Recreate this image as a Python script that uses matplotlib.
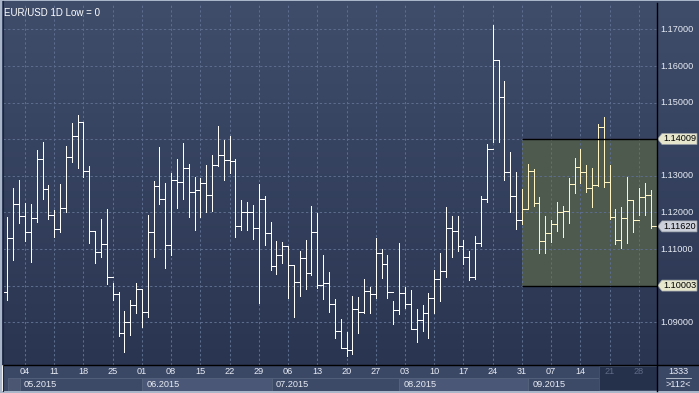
import numpy as np
import matplotlib.pyplot as plt
from matplotlib.patches import Rectangle, Polygon
from matplotlib.colors import to_rgb

plt.rcParams['font.family'] = ['Liberation Sans', 'DejaVu Sans']

W, H = 699, 393

# EUR/USD daily bars, 28.04.2015 .. 30.09.2015 (one per trading day)
highs = [1.0994, 1.1189, 1.1266, 1.1289, 1.1225, 1.1223, 1.1371, 1.1392, 1.1275, 1.1207,
         1.1277, 1.1382, 1.1444, 1.1466, 1.1446, 1.1327, 1.1149, 1.1181, 1.1210, 1.1008,
         1.0982, 1.0931, 1.0961, 1.1008, 1.0990, 1.1193, 1.1286, 1.1380, 1.1281, 1.1309,
         1.1345, 1.1389, 1.1333, 1.1297, 1.1293, 1.1330, 1.1357, 1.1436, 1.1398, 1.1409,
         1.1346, 1.1234, 1.1230, 1.1221, 1.1278, 1.1245, 1.1174, 1.1123, 1.1119, 1.1109,
         1.1057, 1.1095, 1.1125, 1.1218, 1.1198, 1.1084, 1.1037, 1.0963, 1.0910, 1.0874,
         1.0972, 1.0970, 1.1018, 1.0997, 1.1131, 1.1099, 1.1084, 1.0959, 1.1116, 1.0996,
         1.0988, 1.0936, 1.0947, 1.0979, 1.1043, 1.1090, 1.1214, 1.1190, 1.1190, 1.1124,
         1.1095, 1.1136, 1.1245, 1.1387, 1.1712, 1.1617, 1.1559, 1.1365, 1.1312, 1.1264,
         1.1333, 1.1319, 1.1242, 1.1190, 1.1180, 1.1228, 1.1218, 1.1293, 1.1348, 1.1374,
         1.1330, 1.1321, 1.1442, 1.1460, 1.1330, 1.1210, 1.1216, 1.1296, 1.1234, 1.1268,
         1.1280, 1.1262]
lows = [1.0972, 1.0961, 1.1070, 1.1172, 1.1123, 1.1066, 1.1175, 1.1236, 1.1181, 1.1132,
        1.1148, 1.1200, 1.1339, 1.1321, 1.1298, 1.1118, 1.1061, 1.1079, 1.1004, 1.0960,
        1.0863, 1.0820, 1.0865, 1.0926, 1.0888, 1.0915, 1.1079, 1.1223, 1.1049, 1.1084,
        1.1213, 1.1236, 1.1189, 1.1151, 1.1189, 1.1202, 1.1205, 1.1327, 1.1289, 1.1309,
        1.1134, 1.1152, 1.1152, 1.1128, 1.0954, 1.1111, 1.1043, 1.1032, 1.1063, 1.0966,
        1.0915, 1.0973, 1.0990, 1.1029, 1.0995, 1.0964, 1.0929, 1.0856, 1.0830, 1.0809,
        1.0813, 1.0870, 1.0926, 1.0926, 1.0967, 1.1022, 1.0967, 1.0895, 1.0922, 1.0940,
        1.0881, 1.0847, 1.0876, 1.0856, 1.0926, 1.0959, 1.1025, 1.1079, 1.1096, 1.1059,
        1.1016, 1.1018, 1.1109, 1.1229, 1.1393, 1.1393, 1.1289, 1.1202, 1.1154, 1.1169,
        1.1209, 1.1218, 1.1089, 1.1089, 1.1120, 1.1150, 1.1132, 1.1171, 1.1254, 1.1280,
        1.1257, 1.1214, 1.1273, 1.1269, 1.1181, 1.1114, 1.1104, 1.1116, 1.1146, 1.1193,
        1.1193, 1.1157]
closes = [1.0982, 1.1130, 1.1222, 1.1190, 1.1146, 1.1184, 1.1345, 1.1263, 1.1193, 1.1154,
          1.1212, 1.1351, 1.1409, 1.1446, 1.1313, 1.1149, 1.1091, 1.1113, 1.1023, 1.0977,
          1.0870, 1.0902, 1.0947, 1.0990, 1.0927, 1.1148, 1.1272, 1.1236, 1.1111, 1.1289,
          1.1284, 1.1321, 1.1255, 1.1262, 1.1280, 1.1248, 1.1330, 1.1357, 1.1343, 1.1341,
          1.1164, 1.1200, 1.1200, 1.1157, 1.1237, 1.1143, 1.1054, 1.1084, 1.1109, 1.1057,
          1.1011, 1.1075, 1.1034, 1.1146, 1.1002, 1.1007, 1.0949, 1.0876, 1.0830, 1.0824,
          1.0936, 1.0927, 1.0986, 1.0977, 1.1089, 1.1059, 1.0982, 1.0934, 1.0979, 1.0949,
          1.0881, 1.0906, 1.0925, 1.0966, 1.1018, 1.1041, 1.1157, 1.1150, 1.1109, 1.1078,
          1.1025, 1.1116, 1.1236, 1.1374, 1.1617, 1.1515, 1.1310, 1.1245, 1.1180, 1.1209,
          1.1313, 1.1225, 1.1122, 1.1143, 1.1169, 1.1201, 1.1205, 1.1278, 1.1325, 1.1310,
          1.1266, 1.1275, 1.1434, 1.1283, 1.1189, 1.1125, 1.1184, 1.1234, 1.1180, 1.1243,
          1.1248, 1.1162]

# mondays (bar index) and their day numbers
day_ticks = [4, 9, 14, 19, 24, 29, 34, 39, 44, 49, 54, 59, 64, 69, 74, 79, 84, 89, 94, 99, 104, 109]
day_labels = ["04", "11", "18", "25", "01", "08", "15", "22", "29", "06", "13",
              "20", "27", "03", "10", "17", "24", "31", "07", "14", "21", "28"]
month_starts = [3.1, 24.1, 46.2, 68.0, 90.1]
month_labels = ["05.2015", "06.2015", "07.2015", "08.2015", "09.2015"]
price_ticks = [1.09, 1.10, 1.11, 1.12, 1.13, 1.14, 1.15, 1.16, 1.17]

box_start = 89
box_low, box_high = 1.10003, 1.14009
last_price = 1.11620
future_start = 102.2

xlim = (0.24, 112.11)
ylim = (1.07833, 1.17724)
pp = (ylim[1] - ylim[0]) / 362.0   # price per pixel


def rect(l, t, r, b):
    return [l / W, 1 - b / H, (r - l) / W, (b - t) / H]


fig = plt.figure(figsize=(W / 100, H / 100), dpi=100)

# background gradient
bg = fig.add_axes([0, 0, 1, 1])
bg.set_xlim(0, W)
bg.set_ylim(H, 0)
bg.axis('off')
c0, c1 = np.array(to_rgb('#3f4d6b')), np.array(to_rgb('#2a3551'))
t = np.linspace(0, 1, 256)[:, None, None]
grad = c0 * (1 - t) + c1 * t
bg.imshow(np.repeat(grad, 2, axis=1), extent=[0, W, 365, 0], aspect='auto')

# main chart
ax = fig.add_axes(rect(3, 3, 657, 365))
ax.set_facecolor('none')
ax.set_xlim(*xlim)
ax.set_ylim(*ylim)
ax.axis('off')

ax.add_patch(Rectangle((box_start, box_low), xlim[1] + 1 - box_start, box_high - box_low,
                       facecolor='#4f5a4e', edgecolor='none', zorder=1))
ax.hlines([box_low, box_high], box_start, xlim[1] + 1, colors='black', lw=1.0, zorder=4)

grid_kw = dict(colors='#5c6c8c', lw=0.75, linestyles=(0, (2.2, 2.2)), zorder=2)
ax.hlines(price_ticks, xlim[0], xlim[1], **grid_kw)
ax.vlines(day_ticks, ylim[0], ylim[1], **grid_kw)

k = np.arange(len(closes))
cols = ['#ffffff' if i < box_start else '#fff5c2' for i in k]
ax.vlines(k, lows, highs, colors=cols, lw=0.72, zorder=3, antialiased=False)
ax.hlines(closes, k, k + 1, colors=cols, lw=0.72, zorder=3, antialiased=False)

ax.text(0.0015, 0.985, "EUR/USD 1D Low = 0", transform=ax.transAxes, color='white',
        fontsize=7, va='top', ha='left')

# price scale
axr = fig.add_axes(rect(657, 3, 699, 365))
axr.set_facecolor('none')
axr.set_xlim(657, 699)
axr.set_ylim(*ylim)
axr.axis('off')
tags = [(box_high, '#e6e6cc'), (last_price, '#ccd0da'), (box_low, '#e6e6cc')]
for p in price_ticks:
    if min(abs(p - q) for q, _ in tags) < 8 * pp:
        continue  # covered by a tag
    axr.text(660, p, "%.5f" % p, color='#e8ecf4', fontsize=6.6, va='center', ha='left')
for p, fc in tags:
    h = 5.5 * pp
    axr.add_patch(Polygon([(657.6, p), (662, p + h), (697, p + h), (697, p - h), (662, p - h)],
                          closed=True, facecolor=fc, edgecolor='#9aa0a8', lw=0.5, zorder=5))
    axr.text(663, p, "%.5f" % p, color='black', fontsize=6.6, va='center', ha='left', zorder=6)

# date scale
axb = fig.add_axes(rect(3, 365, 657, 391))
axb.set_facecolor('#3a4765')
axb.set_xlim(*xlim)
axb.set_ylim(391, 365)
axb.set_xticks([])
axb.set_yticks([])
for s in axb.spines.values():
    s.set_visible(False)
axb.add_patch(Rectangle((1.1, 378), 2.0, 13, facecolor='#4b5772', edgecolor='#56637d', lw=0.6))
ends = month_starts[1:] + [future_start]
for i, (a, b) in enumerate(zip(month_starts, ends)):
    fc = '#4a5776' if i % 2 else '#3c4967'
    axb.add_patch(Rectangle((a, 378), b - a, 13, facecolor=fc, edgecolor='#56637d', lw=0.6))
    axb.text(a + 0.7, 384.5, month_labels[i], color='#e8ecf4', fontsize=6.6, va='center', ha='left')
axb.add_patch(Rectangle((future_start, 366.5), xlim[1] - future_start, 24,
                        facecolor='#25304b', edgecolor='#46536e', lw=0.6, zorder=3))
for d, lab in zip(day_ticks, day_labels):
    c = '#5f6b86' if d > future_start else '#e8ecf4'
    axb.text(d, 372, lab, color=c, fontsize=6.6, va='center', ha='center', zorder=4)

# bar counter corner
axc = fig.add_axes(rect(657, 365, 699, 391))
axc.set_facecolor('#3a4765')
axc.set_xlim(657, 699)
axc.set_ylim(391, 365)
axc.set_xticks([])
axc.set_yticks([])
for s in axc.spines.values():
    s.set_visible(False)
axc.text(678, 371.5, "1333", color='#e8ecf4', fontsize=6.6, va='center', ha='center')
axc.plot([665.5, 691], [378.3, 378.3], color='#c8d0dc', lw=0.6)
axc.text(678, 384.5, ">112<", color='#e8ecf4', fontsize=6.6, va='center', ha='center')

# frame and separators
fr = fig.add_axes([0, 0, 1, 1], zorder=10)
fr.set_facecolor('none')
fr.set_xlim(0, W)
fr.set_ylim(H, 0)
fr.axis('off')
fr.plot([3, W], [364.5, 364.5], color='black', lw=1.0)
fr.plot([656.5, 656.5], [3, 391], color='black', lw=1.0)
fr.add_patch(Rectangle((0, 0), 2, H, facecolor='#a9b5c8', edgecolor='none'))
fr.add_patch(Rectangle((0, 391), W, 2, facecolor='#a9b5c8', edgecolor='none'))
fr.add_patch(Rectangle((0, 0), W, 1, facecolor='#a9b5c8', edgecolor='none'))
fr.plot([2.5, 2.5], [1, 391], color='#1c2436', lw=0.8)

fig.savefig('out.png', dpi=100)
